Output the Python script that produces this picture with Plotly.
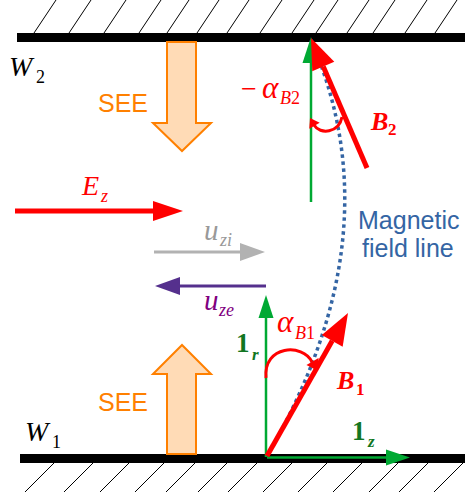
import numpy as np
import plotly.graph_objects as go

W, H = 465, 502

# colours
RED = "#FF0000"
GREEN = "#00A933"
DKGREEN = "#127622"
ORANGE = "#FF8000"
PEACH = "#FFDBB6"
BLUE = "#3465A4"
GREY_ARROW = "#B2B2B2"
GREY_TEXT = "#999999"
INDIGO = "#55308D"
PURPLE = "#800080"

# wall hatch anchor columns
top_hatch_x = [34, 69, 104, 139, 167, 197, 227, 260, 292, 316, 347, 373, 405, 435]
bottom_hatch_x = [54, 93, 129, 164, 195, 227, 257, 292, 327, 362, 398, 428, 463]

# straight arrows: (name, start, tip, width, head length, head half-width, colour)
arrows = [
    ("E_z", (15, 211), (183, 211), 5, 30, 10, RED),
    ("u_zi", (154, 252), (265, 252), 3, 25, 9, GREY_ARROW),
    ("u_ze", (266, 286), (155, 286), 3, 25, 9, INDIGO),
    ("1_r", (266, 457), (266, 295), 2.5, 23, 7.5, GREEN),
    ("1_z", (267, 457.5), (410, 457.5), 2.5, 24, 8, GREEN),
    ("1_r top", (311, 202), (311, 37), 2.5, 26, 8.5, GREEN),
    ("B_2", (367, 168), (311, 38), 5, 31, 12, RED),
    ("B_1", (267, 456), (348, 313), 5, 32, 12, RED),
]

# text labels: (html, x, y, size, colour, family)
SERIF = "Liberation Serif"
SANS = "Liberation Sans"
labels = [
    ("<i>W</i>", 22, 66, 28, "black", SERIF),
    ("2", 40, 77, 18, "black", SERIF),
    ("<i>W</i>", 38, 431, 28, "black", SERIF),
    ("1", 56, 442, 18, "black", SERIF),
    ("SEE", 123, 103, 25, ORANGE, SANS),
    ("SEE", 123, 402, 25, ORANGE, SANS),
    ("<i>E</i>", 90, 185, 28, RED, SERIF),
    ("<i>z</i>", 104, 196, 18, RED, SERIF),
    ("<i>u</i>", 211, 230, 29, GREY_TEXT, SERIF),
    ("<i>zi</i>", 225, 240, 18, GREY_TEXT, SERIF),
    ("<i>u</i>", 211, 300, 29, PURPLE, SERIF),
    ("<i>ze</i>", 226, 310, 18, PURPLE, SERIF),
    ("\u2212", 249, 88, 28, RED, SERIF),
    ("<i>\u03b1</i>", 270, 87, 31, RED, SERIF),
    ("<i>B</i>2", 290, 98, 18, RED, SERIF),
    ("<i>\u03b1</i>", 285, 321, 31, RED, SERIF),
    ("<i>B</i>1", 305, 333, 18, RED, SERIF),
    ("<b><i>B</i></b>", 379, 121, 26, RED, SERIF),
    ("<b>2</b>", 392, 129, 17, RED, SERIF),
    ("<b><i>B</i></b>", 345, 380, 26, RED, SERIF),
    ("<b>1</b>", 360, 389, 17, RED, SERIF),
    ("<b>1</b>", 243, 343, 27, DKGREEN, SERIF),
    ("<b><i>r</i></b>", 255, 354, 17, DKGREEN, SERIF),
    ("<b>1</b>", 359, 431, 27, DKGREEN, SERIF),
    ("<b><i>z</i></b>", 371, 441, 17, DKGREEN, SERIF),
    ("Magnetic", 408, 220, 25, BLUE, SANS),
    ("field line", 408, 248, 25, BLUE, SANS),
]

shapes = []


def pts_path(pts, close=True):
    s = "M " + " L ".join(f"{x:.2f},{y:.2f}" for x, y in pts)
    return s + (" Z" if close else "")


def head(tip, direction, length, half):
    d = np.asarray(direction, float)
    d = d / np.linalg.norm(d)
    n = np.array([-d[1], d[0]])
    t = np.asarray(tip, float)
    base = t - d * length
    return [tuple(t), tuple(base + n * half), tuple(base - n * half)], base


def add_arrow(start, tip, width, hl, hw, color):
    d = np.subtract(tip, start)
    tri, base = head(tip, d, hl, hw)
    shapes.append(dict(type="line", xref="x", yref="y", x0=start[0], y0=start[1],
                       x1=base[0], y1=base[1], line=dict(color=color, width=width)))
    shapes.append(dict(type="path", xref="x", yref="y", path=pts_path(tri),
                       fillcolor=color, line=dict(width=0)))


# walls
for y0, y1, x0 in [(33, 42, 17), (454, 463, 20)]:
    shapes.append(dict(type="rect", xref="x", yref="y", x0=x0, x1=W, y0=y0, y1=y1,
                       fillcolor="black", line=dict(width=0)))
for x in top_hatch_x:
    shapes.append(dict(type="line", xref="x", yref="y", x0=x, y0=33, x1=x + 22, y1=0,
                       line=dict(color="black", width=1)))
for x in bottom_hatch_x:
    shapes.append(dict(type="line", xref="x", yref="y", x0=x, y0=463, x1=x - 29, y1=492,
                       line=dict(color="black", width=1)))

# SEE block arrows
see_down = [(167, 42), (196, 42), (196, 123), (211, 123), (182, 151), (153, 123), (167, 123)]
see_up = [(167, 454), (196, 454), (196, 374), (211, 374), (182, 345), (153, 374), (167, 374)]
for poly in (see_down, see_up):
    shapes.append(dict(type="path", xref="x", yref="y", path=pts_path(poly),
                       fillcolor=PEACH, line=dict(color=ORANGE, width=2)))

# magnetic field line
shapes.append(dict(type="path", xref="x", yref="y", path="M 311,40 Q 396,235 267,456",
                   line=dict(color=BLUE, width=3.5, dash="dot")))

# straight arrows
for name, s, t, w, hl, hw, c in arrows:
    add_arrow(s, t, w, hl, hw, c)

# angle arcs
shapes.append(dict(type="path", xref="x", yref="y",
                   path="M 342,117 C 339,133 320,135 314,125",
                   line=dict(color=RED, width=3)))
tri, _ = head((310, 118), (-0.5, -0.87), 9, 6)
shapes.append(dict(type="path", xref="x", yref="y", path=pts_path(tri),
                   fillcolor=RED, line=dict(width=0)))

shapes.append(dict(type="path", xref="x", yref="y",
                   path="M 266,378 C 263,345 303,343 312,362",
                   line=dict(color=RED, width=3)))
tri, _ = head((318, 371), (0.5, 0.87), 11, 7)
shapes.append(dict(type="path", xref="x", yref="y", path=pts_path(tri),
                   fillcolor=RED, line=dict(width=0)))

annotations = [
    dict(x=x, y=y, xref="x", yref="y", text=t, showarrow=False,
         xanchor="center", yanchor="middle",
         font=dict(family=f, size=s, color=c))
    for t, x, y, s, c, f in labels
]

fig = go.Figure()
fig.update_layout(
    width=W, height=H,
    margin=dict(l=0, r=0, t=0, b=0),
    paper_bgcolor="white", plot_bgcolor="white",
    xaxis=dict(range=[0, W], visible=False, fixedrange=True),
    yaxis=dict(range=[H, 0], visible=False, fixedrange=True),
    shapes=shapes, annotations=annotations, showlegend=False,
)
fig.write_html("out.html")
